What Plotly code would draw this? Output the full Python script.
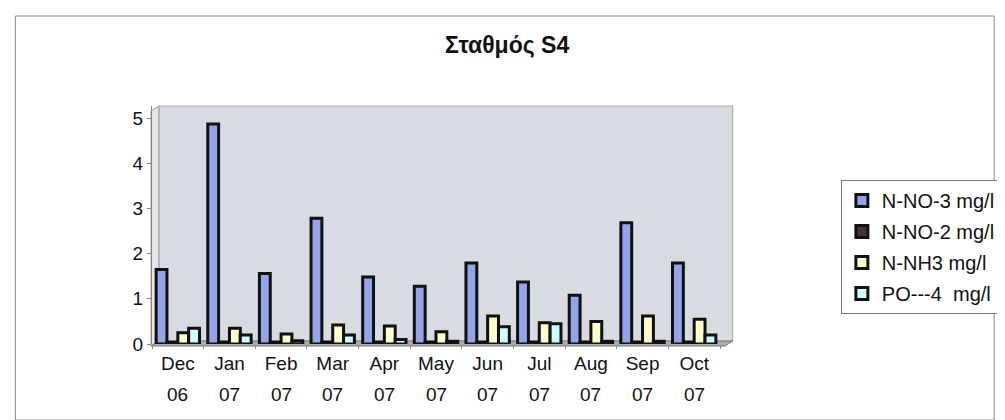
import plotly.graph_objects as go

months = ["Dec", "Jan", "Feb", "Mar", "Apr", "May", "Jun", "Jul", "Aug", "Sep", "Oct"]
years = ["06", "07", "07", "07", "07", "07", "07", "07", "07", "07", "07"]
categories = [f"{m} {y}" for m, y in zip(months, years)]

n_no3 = [1.65, 4.87, 1.56, 2.78, 1.48, 1.28, 1.79, 1.37, 1.08, 2.68, 1.79]
n_no2 = [0.04, 0.04, 0.04, 0.04, 0.04, 0.04, 0.04, 0.04, 0.04, 0.04, 0.04]
n_nh3 = [0.25, 0.35, 0.22, 0.42, 0.40, 0.27, 0.62, 0.47, 0.50, 0.62, 0.55]
po4 = [0.35, 0.20, 0.07, 0.20, 0.10, 0.06, 0.38, 0.45, 0.06, 0.06, 0.20]

series_names = ["N-NO-3 mg/l", "N-NO-2 mg/l", "N-NH3 mg/l", "PO---4  mg/l"]
series_values = [n_no3, n_no2, n_nh3, po4]
series_colors = ["#93A4E8", "#4A2F3A", "#FFFFCC", "#CCFFFF"]

title_text = "Σταθμός S4"
y_ticks = [0, 1, 2, 3, 4, 5]

FONT = "Arial, Liberation Sans, sans-serif"

# pixel geometry helpers
PL, PR, PT, PB = 144, 722, 98, 336
def px(p):
    return (p - PL) / (PR - PL)
def py(p):
    return (PB - p) / (PB - PT)

fig = go.Figure()
for i, (name, vals, col) in enumerate(zip(series_names, series_values, series_colors)):
    fig.add_trace(go.Bar(
        x=categories, y=vals, name=name, legendgroup=f"g{i}",
        marker=dict(color=col, line=dict(color="#111111", width=3)),
    ))

shapes = [
    # outer border
    dict(type="rect", xref="paper", yref="paper", x0=px(5), x1=px(1001), y0=py(412), y1=py(8),
         line=dict(color="#8A8A8A", width=1), fillcolor="rgba(0,0,0,0)", layer="below"),
    # back wall
    dict(type="rect", xref="paper", yref="paper", x0=px(151), x1=px(735), y0=py(333), y1=py(98),
         line=dict(color="#A8A8A8", width=1), fillcolor="#D8DBE1", layer="below"),
    # side wall
    dict(type="path", xref="paper", yref="paper",
         path=f"M {px(143)},{py(338)} L {px(151)},{py(333)} L {px(151)},{py(98)} L {px(143)},{py(103)} Z",
         line=dict(color="#9A9A9A", width=1), fillcolor="#E4E6EA", layer="below"),
    # floor
    dict(type="path", xref="paper", yref="paper",
         path=f"M {px(143)},{py(338)} L {px(151)},{py(333)} L {px(735)},{py(333)} L {px(727)},{py(338)} Z",
         line=dict(color="#7A7A7A", width=1), fillcolor="#A9ACB2", layer="below"),
]

annotations = [
    dict(text=y, x=c, xref="x", y=py(386), yref="paper", showarrow=False,
         font=dict(family=FONT, size=19, color="#111111"), yanchor="middle")
    for c, y in zip(categories, years)
]
annotations.append(dict(text=f"<b>{title_text}</b>", x=px(505), xref="paper", y=py(37), yref="paper",
                        showarrow=False, xanchor="center", yanchor="middle",
                        font=dict(family=FONT, size=23, color="#111111")))

fig.update_layout(
    width=1005, height=420,
    margin=dict(l=PL, r=1005 - PR, t=PT, b=420 - PB, pad=0),
    paper_bgcolor="white", plot_bgcolor="rgba(0,0,0,0)",
    font=dict(family=FONT, size=19, color="#111111"),
    barmode="group", bargap=0.16, bargroupgap=0.0,
    xaxis=dict(tickvals=categories, ticktext=months, showgrid=False, zeroline=False,
               showline=False, ticks="outside", tickson="boundaries", ticklen=4,
               tickcolor="#888888", ticklabelstandoff=6,
               tickfont=dict(family=FONT, size=19, color="#111111")),
    yaxis=dict(range=[0, (PB - PT) / 45.2], tickvals=y_ticks, showgrid=False, zeroline=False,
               showline=True, linecolor="#888888", ticks="outside", ticklen=4,
               tickcolor="#888888", tickfont=dict(family=FONT, size=19, color="#111111")),
    legend=dict(x=px(845), xanchor="left", y=py(172), yanchor="top",
                bordercolor="#777777", borderwidth=1, bgcolor="white",
                font=dict(family=FONT, size=20, color="#111111"),
                tracegroupgap=2, itemwidth=30),
    shapes=shapes, annotations=annotations,
)

fig.write_html("out.html")
